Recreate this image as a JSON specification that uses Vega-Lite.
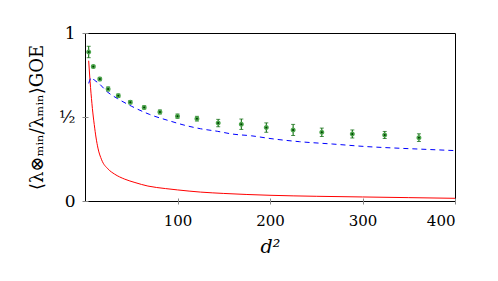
{
  "$schema": "https://vega.github.io/schema/vega-lite/v6.json",
  "autosize": "none",
  "padding": {"left": 85, "top": 33, "right": 43, "bottom": 80},
  "width": 370,
  "height": 168,
  "background": "white",
  "config": {
    "font": "DejaVu Serif",
    "view": {"stroke": "#000000", "strokeWidth": 1},
    "axis": {
      "grid": false,
      "domain": false,
      "offset": -3,
      "tickColor": "#888888",
      "tickSize": 6,
      "labelColor": "#000000",
      "titleColor": "#000000",
      "titleFontWeight": "normal"
    }
  },
  "datasets": {
    "red": [
      {"x": 4, "y": 0.835}, {"x": 5, "y": 0.75}, {"x": 6, "y": 0.675}, {"x": 7, "y": 0.61},
      {"x": 8, "y": 0.55}, {"x": 9, "y": 0.5}, {"x": 10, "y": 0.455}, {"x": 12, "y": 0.375},
      {"x": 14, "y": 0.315}, {"x": 18, "y": 0.245}, {"x": 25, "y": 0.19}, {"x": 32, "y": 0.16},
      {"x": 43, "y": 0.13}, {"x": 54, "y": 0.11}, {"x": 68, "y": 0.089}, {"x": 87, "y": 0.074},
      {"x": 100, "y": 0.066}, {"x": 125, "y": 0.053}, {"x": 150, "y": 0.045}, {"x": 200, "y": 0.034},
      {"x": 250, "y": 0.028}, {"x": 300, "y": 0.024}, {"x": 350, "y": 0.02}, {"x": 400, "y": 0.016}
    ],
    "blue": [
      {"x": 4, "y": 0.70}, {"x": 7, "y": 0.735}, {"x": 10, "y": 0.72}, {"x": 15, "y": 0.70},
      {"x": 24, "y": 0.65}, {"x": 35, "y": 0.61}, {"x": 50, "y": 0.565}, {"x": 70, "y": 0.515},
      {"x": 92, "y": 0.476}, {"x": 107, "y": 0.452}, {"x": 125, "y": 0.43}, {"x": 143, "y": 0.415},
      {"x": 160, "y": 0.398}, {"x": 180, "y": 0.388}, {"x": 200, "y": 0.372}, {"x": 232, "y": 0.353},
      {"x": 268, "y": 0.339}, {"x": 304, "y": 0.324}, {"x": 340, "y": 0.314}, {"x": 370, "y": 0.307},
      {"x": 400, "y": 0.300}
    ],
    "pts": [
      {"x": 4, "y": 0.887, "lo": 0.853, "hi": 0.921},
      {"x": 9, "y": 0.80, "lo": 0.792, "hi": 0.808},
      {"x": 16, "y": 0.726, "lo": 0.716, "hi": 0.736},
      {"x": 25, "y": 0.667, "lo": 0.655, "hi": 0.679},
      {"x": 36, "y": 0.627, "lo": 0.617, "hi": 0.637},
      {"x": 49, "y": 0.588, "lo": 0.578, "hi": 0.598},
      {"x": 64, "y": 0.557, "lo": 0.547, "hi": 0.567},
      {"x": 81, "y": 0.53, "lo": 0.518, "hi": 0.542},
      {"x": 100, "y": 0.505, "lo": 0.492, "hi": 0.518},
      {"x": 121, "y": 0.49, "lo": 0.476, "hi": 0.504},
      {"x": 144, "y": 0.464, "lo": 0.442, "hi": 0.486},
      {"x": 169, "y": 0.457, "lo": 0.426, "hi": 0.488},
      {"x": 196, "y": 0.437, "lo": 0.409, "hi": 0.465},
      {"x": 225, "y": 0.423, "lo": 0.39, "hi": 0.456},
      {"x": 256, "y": 0.409, "lo": 0.384, "hi": 0.434},
      {"x": 289, "y": 0.399, "lo": 0.375, "hi": 0.423},
      {"x": 324, "y": 0.393, "lo": 0.372, "hi": 0.414},
      {"x": 361, "y": 0.377, "lo": 0.354, "hi": 0.40}
    ]
  },
  "encoding": {
    "x": {
      "field": "x", "type": "quantitative",
      "scale": {"domain": [0, 400], "nice": false, "zero": false},
      "axis": {"values": [100, 200, 300, 400], "labelFont": "DejaVu Serif", "labelFontSize": 15, "title": "d²", "titleFont": "DejaVu Serif", "titleFontStyle": "italic", "titleFontSize": 19, "titlePadding": 9, "labelPadding": 9}
    },
    "y": {
      "field": "y", "type": "quantitative",
      "scale": {"domain": [0, 1], "nice": false},
      "axis": {"values": [0, 0.5, 1], "labelExpr": "datum.value == 0.5 ? '½' : format(datum.value, 'd')", "labelFont": "DejaVu Serif", "labelFontSize": 17, "labelPadding": 7, "title": "⟨λ⊗ₘᵢₙ/λₘᵢₙ⟩GOE", "titleFont": "DejaVu Serif", "titleFontSize": 18, "titlePadding": 12}
    }
  },
  "layer": [
    {
      "data": {"name": "red"},
      "mark": {"type": "line", "color": "#ff0000", "strokeWidth": 1, "interpolate": "monotone", "clip": true}
    },
    {
      "data": {"name": "blue"},
      "mark": {"type": "line", "color": "#0000ff", "strokeWidth": 1, "strokeDash": [5, 4], "interpolate": "monotone", "clip": true}
    },
    {
      "data": {"name": "pts"},
      "mark": {"type": "rule", "color": "#006400", "strokeWidth": 1},
      "encoding": {"y": {"field": "lo", "type": "quantitative"}, "y2": {"field": "hi"}}
    },
    {
      "data": {"name": "pts"},
      "mark": {"type": "tick", "orient": "horizontal", "color": "#006400", "size": 4, "thickness": 1},
      "encoding": {"y": {"field": "lo", "type": "quantitative"}}
    },
    {
      "data": {"name": "pts"},
      "mark": {"type": "tick", "orient": "horizontal", "color": "#006400", "size": 4, "thickness": 1},
      "encoding": {"y": {"field": "hi", "type": "quantitative"}}
    },
    {
      "data": {"name": "pts"},
      "mark": {"type": "circle", "size": 12, "color": "#004000", "opacity": 1, "stroke": "#4ca64c", "strokeWidth": 1.5}
    }
  ]
}
